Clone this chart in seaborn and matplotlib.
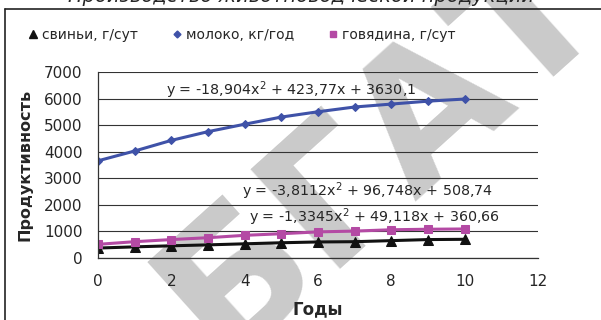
import pandas as pd
import seaborn as sns
import matplotlib.pyplot as plt
from matplotlib.lines import Line2D

# Data
years = [0, 1, 2, 3, 4, 5, 6, 7, 8, 9, 10]
milk = [3650, 4020, 4420, 4750, 5030, 5300, 5500, 5680, 5790, 5900, 5980]
beef = [500, 600, 680, 750, 840, 900, 970, 1000, 1050, 1070, 1080]
pigs = [360, 405, 445, 480, 520, 560, 590, 600, 640, 680, 690]

series_names = ['свиньи, г/сут', 'молоко, кг/год', 'говядина, г/сут']
equations = ['y = -1,3345x$^2$ + 49,118x + 360,66',
             'y = -18,904x$^2$ + 423,77x + 3630,1',
             'y = -3,8112x$^2$ + 96,748x + 508,74']
title = 'Производство животноводческой продукции'

sns.set_style('white')
plt.rcParams['font.family'] = ['DejaVu Sans']
plt.rcParams['mathtext.fontset'] = 'dejavusans'

df = pd.DataFrame({'Годы': years * 3,
                   'value': pigs + milk + beef,
                   'series': [series_names[0]] * 11 + [series_names[1]] * 11 + [series_names[2]] * 11})

colors = {series_names[0]: '#111111', series_names[1]: '#3f52a8', series_names[2]: '#b44aa4'}
markers = {series_names[0]: '^', series_names[1]: 'D', series_names[2]: 's'}
msizes = {series_names[0]: 6.5, series_names[1]: 4.5, series_names[2]: 6}

fig = plt.figure(figsize=(6.01, 3.20), dpi=100)
ax = fig.add_axes([0.163, 0.195, 0.732, 0.58])
ax.set_facecolor('none')

# watermark
fig.text(0.365, -0.13, 'БГАТУ', rotation=42, rotation_mode='anchor', fontsize=132,
         fontweight='bold', color='#cacaca', ha='left', va='baseline', zorder=-5)

for name in series_names:
    sub = df[df['series'] == name]
    sns.lineplot(data=sub, x='Годы', y='value', ax=ax, color=colors[name],
                 marker=markers[name], markersize=msizes[name], markeredgecolor=colors[name],
                 linewidth=2.2, legend=False)

ax.set_xlim(0, 12)
ax.set_ylim(0, 7000)
ax.set_xticks(range(0, 13, 2))
ax.set_yticks(range(0, 7001, 1000))
ax.yaxis.grid(True, color='#333333', linewidth=0.8)
ax.set_axisbelow(True)
for s in ['top', 'right']:
    ax.spines[s].set_visible(False)
for s in ['left', 'bottom']:
    ax.spines[s].set_color('#333333')
    ax.spines[s].set_linewidth(0.9)
ax.tick_params(axis='both', which='both', direction='out', length=4, width=0.8,
               color='#333333', labelsize=11, pad=8)
ax.tick_params(axis='y', pad=7)
ax.set_xlabel('Годы', fontsize=12, fontweight='bold', labelpad=8)
ax.set_ylabel('Продуктивность', fontsize=11.5, fontweight='bold', labelpad=8)

ax.text(1.85, 6320, equations[1], fontsize=10.3, va='center')
ax.text(3.93, 2510, equations[2], fontsize=10.3, va='center')
ax.text(4.12, 1530, equations[0], fontsize=10.3, va='center')

handles = [Line2D([], [], ls='none', marker=markers[n], color=colors[n],
                  markersize=msizes[n] - 1) for n in series_names]
fig.legend(handles, series_names, loc='center left', bbox_to_anchor=(0.046, 0.89),
           ncol=3, frameon=False, fontsize=10, handletextpad=0.25, columnspacing=2.4,
           handlelength=0.8, borderpad=0, borderaxespad=0)

fig.text(0.5, 0.995, title, fontsize=14, fontstyle='italic', ha='center', va='baseline')

# chart frame
fig.add_artist(Line2D([5 / 601, 1], [1 - 9 / 320, 1 - 9 / 320], color='#222222', lw=1.2))
fig.add_artist(Line2D([5 / 601, 5 / 601], [0, 1 - 9 / 320], color='#222222', lw=1.2))

fig.savefig('out.png', dpi=100)
